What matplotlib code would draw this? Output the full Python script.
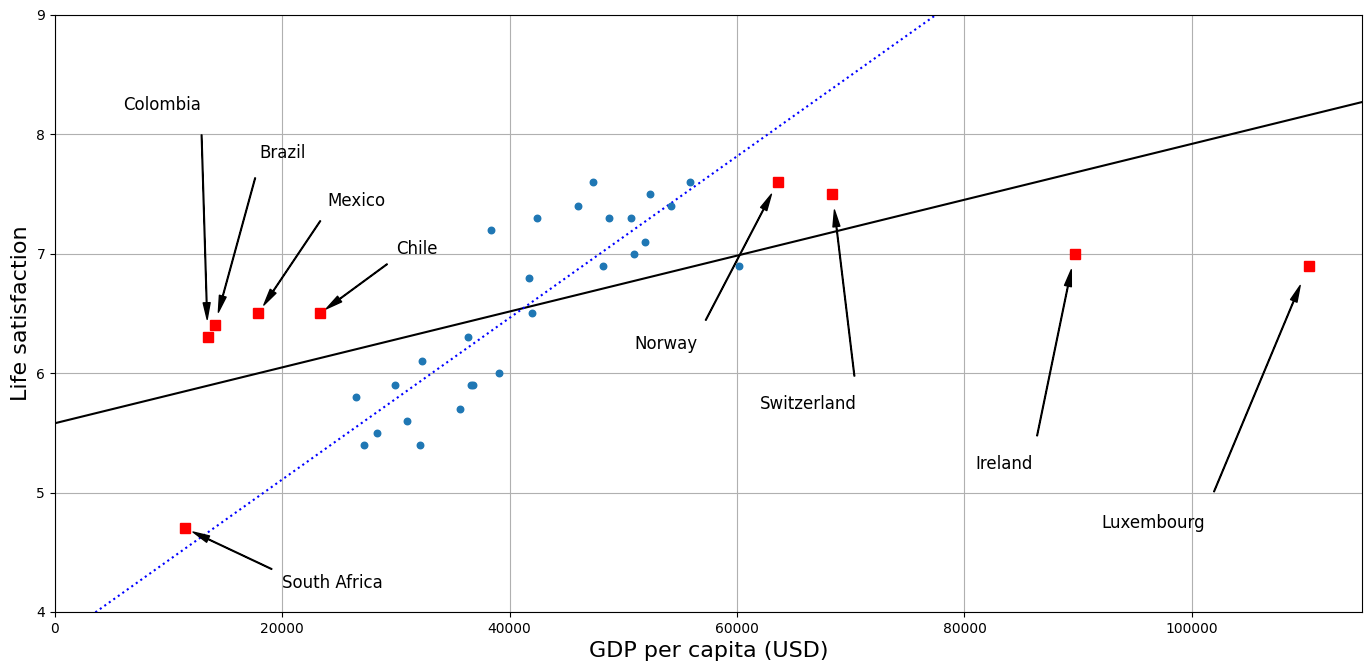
import matplotlib
matplotlib.use("Agg")
import matplotlib.pyplot as plt
import numpy as np

# sample countries (blue dots)
gdp = [26500, 27200, 28300, 29900, 31000, 32100, 32300, 35600, 36300, 36600,
       36800, 38400, 39100, 41700, 42000, 42400, 46000, 47300, 48200, 48700,
       50700, 50900, 51900, 52300, 54200, 55900, 60200]
sat = [5.8, 5.4, 5.5, 5.9, 5.6, 5.4, 6.1, 5.7, 6.3, 5.9,
       5.9, 7.2, 6.0, 6.8, 6.5, 7.3, 7.4, 7.6, 6.9, 7.3,
       7.3, 7.0, 7.1, 7.5, 7.4, 7.6, 6.9]

# missing countries (red squares)
miss_names = ["Colombia", "Brazil", "Mexico", "Chile", "South Africa",
              "Norway", "Switzerland", "Ireland", "Luxembourg"]
miss_gdp = [13441, 14063, 17887, 23324, 11466, 63585, 68393, 89689, 110261]
miss_sat = [6.3, 6.4, 6.5, 6.5, 4.7, 7.6, 7.5, 7.0, 6.9]
text_pos = [(6000, 8.2), (18000, 7.8), (24000, 7.4), (30000, 7.0), (20000, 4.2),
            (51000, 6.2), (62000, 5.7), (81000, 5.2), (92000, 4.7)]

# linear models: (intercept, slope)
full_model = (5.58, 2.339e-5)
sample_model = (3.756, 6.766e-5)

fig, ax = plt.subplots(figsize=(13.72, 6.71), dpi=100)
fig.subplots_adjust(left=0.04, right=0.993, top=0.978, bottom=0.088)

ax.scatter(gdp, sat, s=22, zorder=3)
for name, x, y, pos in zip(miss_names, miss_gdp, miss_sat, text_pos):
    ax.annotate(name, xy=(x, y), xytext=pos, fontsize=12,
                arrowprops=dict(facecolor='black', width=0.5, shrink=0.08,
                                headwidth=5))
ax.plot(miss_gdp, miss_sat, "rs", markersize=6.5, zorder=4)

X = np.linspace(0, 115000, 1000)
ax.plot(X, full_model[0] + full_model[1] * X, "k")
ax.plot(X, sample_model[0] + sample_model[1] * X, "b:")

ax.set_xlim(0, 115000)
ax.set_ylim(4, 9)
ax.set_xlabel("GDP per capita (USD)", fontsize=16)
ax.set_ylabel("Life satisfaction", fontsize=16)
ax.grid(True)

fig.savefig("out.png", dpi=100)
